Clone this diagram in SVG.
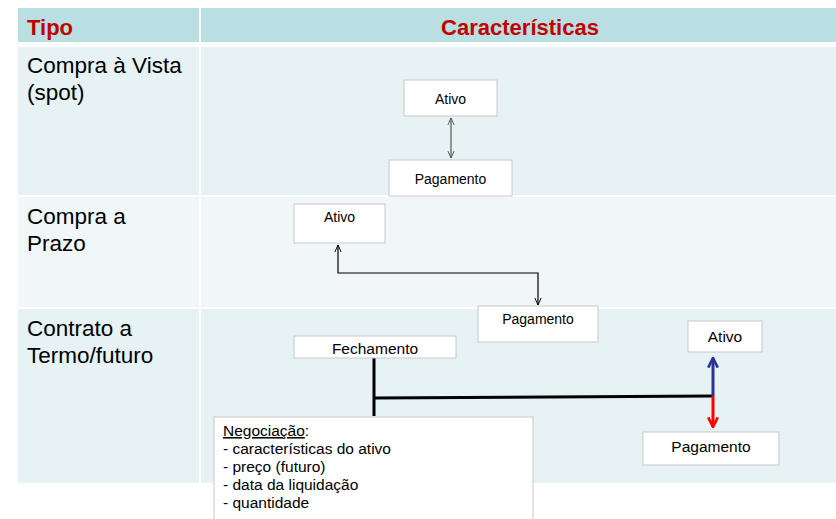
<svg xmlns="http://www.w3.org/2000/svg" width="836" height="519" viewBox="0 0 836 519">
<style>
.hdr{font-family:"Liberation Sans Narrow","Liberation Sans",Arial,sans-serif;font-weight:bold;font-size:22px;fill:#c00000}
.lbl{font-family:"Liberation Sans",Arial,sans-serif;font-size:22.5px;fill:#000}
.box{fill:#fff;stroke:#c8c8c8;stroke-width:1}
.bt{font-family:"Liberation Sans",Arial,sans-serif;font-size:14px;fill:#000;text-anchor:middle}
.bt3{font-family:"Liberation Sans",Arial,sans-serif;font-size:15.5px;fill:#000;text-anchor:middle}
.nt{font-family:"Liberation Sans",Arial,sans-serif;font-size:15.5px;fill:#000}
.thin{fill:none;stroke:#000;stroke-width:1.2}
.thick{fill:none;stroke:#000;stroke-width:3}
</style>
<defs>
<marker id="op" viewBox="0 0 10 10" refX="9" refY="5" markerWidth="8" markerHeight="8" orient="auto-start-reverse" markerUnits="userSpaceOnUse"><path d="M0,1 L9,5 L0,9" fill="none" stroke="#000" stroke-width="1.2"/></marker>
<marker id="opg" viewBox="0 0 10 10" refX="9" refY="5" markerWidth="8" markerHeight="8" orient="auto-start-reverse" markerUnits="userSpaceOnUse"><path d="M0,1 L9,5 L0,9" fill="none" stroke="#555" stroke-width="1.2"/></marker>
<marker id="blue" viewBox="0 0 10 10" refX="9" refY="5" markerWidth="12" markerHeight="12" orient="auto" markerUnits="userSpaceOnUse"><path d="M1,1 L9,5 L1,9" fill="none" stroke="#2e3192" stroke-width="2.2"/></marker>
<marker id="red" viewBox="0 0 10 10" refX="9" refY="5" markerWidth="12" markerHeight="12" orient="auto" markerUnits="userSpaceOnUse"><path d="M1,1 L9,5 L1,9" fill="none" stroke="#ff0000" stroke-width="2.2"/></marker>
</defs>
<rect width="836" height="519" fill="#fff"/>
<g id="table">
<rect x="18" y="8" width="818" height="34" fill="#badfe2"/>
<rect x="18" y="47" width="818" height="148" fill="#e6f2f4"/>
<rect x="18" y="197" width="818" height="110" fill="#f1f7f9"/>
<rect x="18" y="309" width="818" height="174" fill="#e6f2f4"/>
<rect x="199" y="8" width="2" height="475" fill="#fff"/>
<text class="hdr" x="27" y="35">Tipo</text>
<text class="hdr" x="520" y="35" text-anchor="middle">Características</text>
<text class="lbl" x="27" y="73">Compra à Vista</text>
<text class="lbl" x="27" y="100">(spot)</text>
<text class="lbl" x="27" y="224">Compra a</text>
<text class="lbl" x="27" y="251">Prazo</text>
<text class="lbl" x="27" y="336">Contrato a</text>
<text class="lbl" x="27" y="363">Termo/futuro</text>
</g>
<g id="connectors">
<line x1="451" y1="118" x2="451" y2="158" stroke="#555" stroke-width="1.2" marker-start="url(#opg)" marker-end="url(#opg)"/>
<path class="thin" d="M338,245 L338,273 L538,273 L538,305" marker-start="url(#op)" marker-end="url(#op)"/>
<path class="thick" d="M374,358 L374,416"/>
<path class="thick" d="M374,398 L713,396"/>
<line x1="713" y1="396" x2="713" y2="358" stroke="#2e3192" stroke-width="3" marker-end="url(#blue)"/>
<line x1="713" y1="396" x2="713" y2="427" stroke="#ff0000" stroke-width="3" marker-end="url(#red)"/>
</g>
<g id="n-ativo1"><rect class="box" x="404" y="80" width="93" height="36"/><text class="bt" x="450.5" y="104">Ativo</text></g>
<g id="n-pag1"><rect class="box" x="389" y="160" width="123" height="36"/><text class="bt" x="450.5" y="184">Pagamento</text></g>
<g id="n-ativo2"><rect class="box" x="294" y="204" width="91" height="39"/><text class="bt" x="339.5" y="222">Ativo</text></g>
<g id="n-pag2"><rect class="box" x="478" y="306" width="120" height="36"/><text class="bt" x="538" y="324">Pagamento</text></g>
<g id="n-fech"><rect class="box" x="294" y="336" width="162" height="22"/><text class="bt3" x="375" y="354">Fechamento</text></g>
<g id="n-ativo3"><rect class="box" x="688" y="321" width="74" height="31"/><text class="bt3" x="725" y="342">Ativo</text></g>
<g id="n-pag3"><rect class="box" x="643" y="432" width="136" height="33"/><text class="bt3" x="711" y="452">Pagamento</text></g>
<g id="n-neg"><rect class="box" x="214" y="417" width="319" height="110"/>
<text class="nt" x="223" y="436"><tspan text-decoration="underline">Negociação</tspan>:</text>
<text class="nt" x="223" y="454">- características do ativo</text>
<text class="nt" x="223" y="472">- preço (futuro)</text>
<text class="nt" x="223" y="490">- data da liquidação</text>
<text class="nt" x="223" y="508">- quantidade</text>
</g>
</svg>
